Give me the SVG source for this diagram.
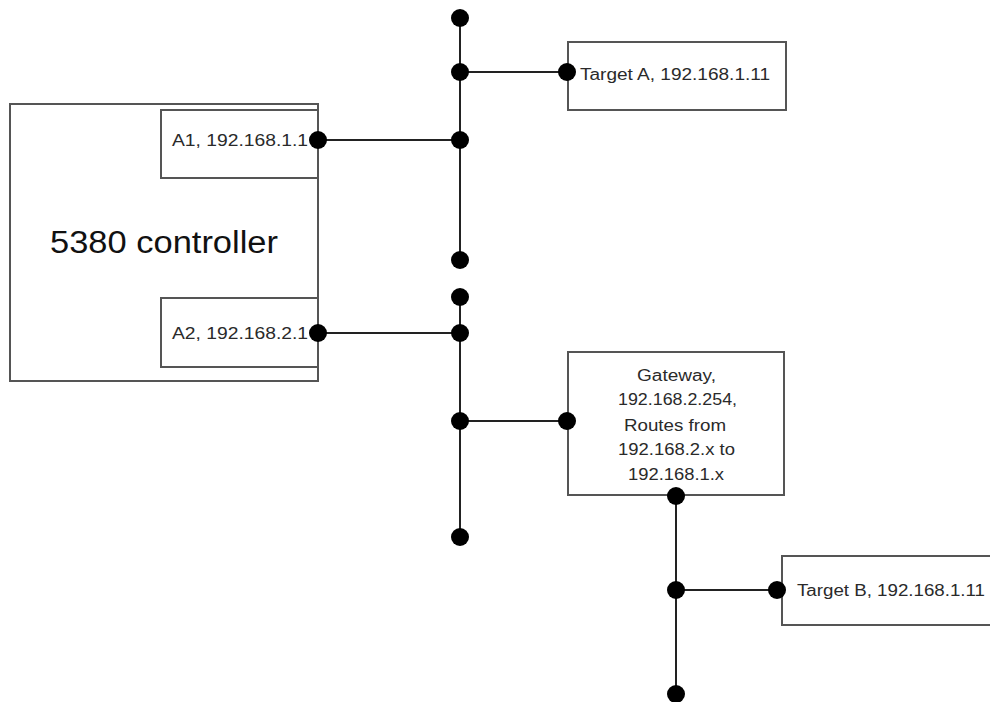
<svg xmlns="http://www.w3.org/2000/svg" width="990" height="702" viewBox="0 0 990 702">
<style>
.box{fill:#fff;stroke:#555;stroke-width:2}
.ln{stroke:#222;stroke-width:2;fill:none}
.dot{fill:#000}
.t{font-family:"Liberation Sans",Arial,sans-serif;font-size:16px;fill:#2a2a2a}
.big{font-family:"Liberation Sans",Arial,sans-serif;font-size:31px;fill:#111}
</style>
<rect width="990" height="702" fill="#fff"/>
<g id="controller">
<rect class="box" x="10" y="104" width="308" height="277"/>
<text class="big" x="50" y="253" textLength="228" lengthAdjust="spacingAndGlyphs">5380 controller</text>
</g>
<g id="a1">
<rect class="box" x="161" y="110" width="157" height="68"/>
<text class="t" x="172" y="146" textLength="136" lengthAdjust="spacingAndGlyphs">A1, 192.168.1.1</text>
</g>
<g id="a2">
<rect class="box" x="161" y="298" width="157" height="69"/>
<text class="t" x="172" y="339" textLength="136" lengthAdjust="spacingAndGlyphs">A2, 192.168.2.1</text>
</g>
<g id="targetA">
<rect class="box" x="568" y="42" width="218" height="68"/>
<text class="t" x="580" y="80" textLength="190" lengthAdjust="spacingAndGlyphs">Target A, 192.168.1.11</text>
</g>
<g id="gateway">
<rect class="box" x="568" y="352" width="216" height="143"/>
<text class="t" x="637" y="381" textLength="79" lengthAdjust="spacingAndGlyphs">Gateway,</text>
<text class="t" x="618" y="405" textLength="119" lengthAdjust="spacingAndGlyphs">192.168.2.254,</text>
<text class="t" x="624" y="431" textLength="102" lengthAdjust="spacingAndGlyphs">Routes from</text>
<text class="t" x="618" y="455" textLength="117" lengthAdjust="spacingAndGlyphs">192.168.2.x to</text>
<text class="t" x="628" y="480" textLength="96" lengthAdjust="spacingAndGlyphs">192.168.1.x</text>
</g>
<g id="targetB">
<rect class="box" x="782" y="556" width="210" height="69"/>
<text class="t" x="797" y="596" textLength="188" lengthAdjust="spacingAndGlyphs">Target B, 192.168.1.11</text>
</g>
<g id="connectors">
<line class="ln" x1="460" y1="18" x2="460" y2="260"/>
<line class="ln" x1="460" y1="72" x2="567" y2="72"/>
<line class="ln" x1="318" y1="140" x2="460" y2="140"/>
<line class="ln" x1="460" y1="297" x2="460" y2="537"/>
<line class="ln" x1="318" y1="333" x2="460" y2="333"/>
<line class="ln" x1="460" y1="421" x2="567" y2="421"/>
<line class="ln" x1="676" y1="496" x2="676" y2="694"/>
<line class="ln" x1="676" y1="590" x2="777" y2="590"/>
<circle class="dot" cx="460" cy="18" r="9"/>
<circle class="dot" cx="460" cy="72" r="9"/>
<circle class="dot" cx="460" cy="140" r="9"/>
<circle class="dot" cx="460" cy="260" r="9"/>
<circle class="dot" cx="567" cy="72" r="9"/>
<circle class="dot" cx="318" cy="140" r="9"/>
<circle class="dot" cx="460" cy="297" r="9"/>
<circle class="dot" cx="460" cy="333" r="9"/>
<circle class="dot" cx="460" cy="421" r="9"/>
<circle class="dot" cx="460" cy="537" r="9"/>
<circle class="dot" cx="318" cy="333" r="9"/>
<circle class="dot" cx="567" cy="421" r="9"/>
<circle class="dot" cx="676" cy="496" r="9"/>
<circle class="dot" cx="676" cy="590" r="9"/>
<circle class="dot" cx="676" cy="694" r="9"/>
<circle class="dot" cx="777" cy="590" r="9"/>
</g>
</svg>
